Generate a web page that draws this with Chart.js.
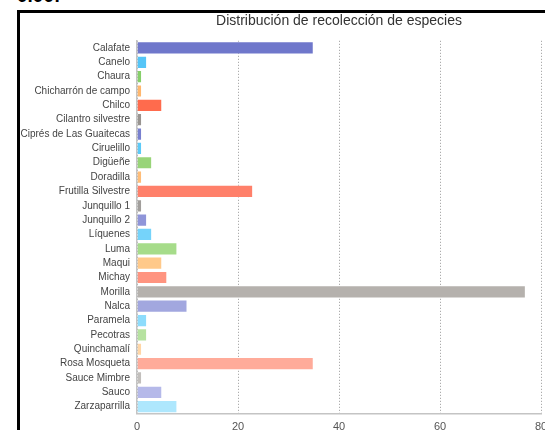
<!DOCTYPE html>
<html>
<head>
<meta charset="utf-8">
<title>Distribución de recolección de especies</title>
<script src="https://cdn.jsdelivr.net/npm/chart.js@4"></script>
<style>
  body { margin: 0; background: #fff; overflow: hidden; }
  #top-label {
    position: absolute; left: 17px; top: -15px;
    font: bold 19px "Liberation Sans", Arial, sans-serif; color: #000;
  }
  #box {
    position: absolute; left: 17px; top: 10px;
    width: 600px; height: 500px;
    border: 3px solid #000;
  }
  #wrap { position: absolute; left: 0; top: 0; width: 540px; height: 440px; }
</style>
</head>
<body>
<div id="top-label">0.00:</div>
<div id="box">
  <div id="wrap"><canvas id="myChart"></canvas></div>
</div>
<script>
'use strict';

const especies = ['Calafate', 'Canelo', 'Chaura', 'Chicharrón de campo', 'Chilco', 'Cilantro silvestre', 'Ciprés de Las Guaitecas', 'Ciruelillo', 'Digüeñe', 'Doradilla', 'Frutilla Silvestre', 'Junquillo 1', 'Junquillo 2', 'Líquenes', 'Luma', 'Maqui', 'Michay', 'Morilla', 'Nalca', 'Paramela', 'Pecotras', 'Quinchamalí', 'Rosa Mosqueta', 'Sauce Mimbre', 'Sauco', 'Zarzaparrilla'];

const recolecciones = [35, 2, 1, 1, 5, 1, 1, 1, 3, 1, 23, 1, 2, 3, 8, 5, 6, 77, 10, 2, 2, 1, 35, 1, 5, 8];

const xTicks = [0, 20, 40, 60, 80];

// one colour per bar, the six base colours get lighter down the list
const colores = ['#6f77cb', '#55c5f7', '#86cf6a', '#ffb76e', '#ff6b4d', '#989490',
  '#7880cf', '#5ccaf8', '#98d478', '#ffbd78', '#ff806a', '#a19e9b',
  '#8f95d9', '#75d3fa', '#a6dc8a', '#ffc98a', '#ff9480', '#b5b1ad',
  '#a2a7df', '#8ddcfc', '#b6e2a0', '#ffd6a6', '#ffab9a', '#c2bfbc',
  '#b5b9e9', '#aee7fd'];

const font = '"Liberation Sans", Arial, Helvetica, sans-serif';

let ctx = document.getElementById('myChart').getContext('2d');
let chart = new Chart(ctx, {
  type: 'bar',

  data: {
    labels: especies,
    datasets: [{
      label: 'Recolecciones',
      data: recolecciones,
      backgroundColor: colores,
      borderColor: 'rgba(255, 255, 255, 0.45)',
      borderWidth: 1,
      barPercentage: 0.92,
      categoryPercentage: 1
    }]
  },

  options: {
    indexAxis: 'y',
    responsive: true,
    maintainAspectRatio: false,
    animation: false,
    layout: { padding: { left: 0, right: 19, top: 0, bottom: 12 } },
    plugins: {
      legend: { display: false },
      tooltip: { enabled: false },
      title: {
        display: true,
        fullSize: false,
        text: 'Distribución de recolección de especies',
        color: '#333',
        font: { family: font, size: 14, weight: 'normal' },
        padding: { top: 0, bottom: 11 }
      }
    },
    scales: {
      x: {
        min: xTicks[0],
        max: xTicks[xTicks.length - 1],
        afterBuildTicks: function (scale) {
          scale.ticks = xTicks.map(v => ({ value: v }));
        },
        grid: {
          color: '#999',
          drawTicks: false
        },
        // dotted grid lines, solid axis line
        border: { display: true, color: '#c4c4c4', width: 1.5, dash: [1, 2] },
        ticks: {
          padding: 7,
          color: '#555',
          font: { family: font, size: 11 }
        }
      },
      y: {
        afterFit: function (scale) {
          scale.width = 117;
        },
        grid: { display: false, drawTicks: false },
        border: { display: true, color: '#c4c4c4', width: 1.5 },
        ticks: {
          padding: 7,
          autoSkip: false,
          color: '#444',
          font: { family: font, size: 10 }
        }
      }
    }
  }
});
</script>
</body>
</html>
